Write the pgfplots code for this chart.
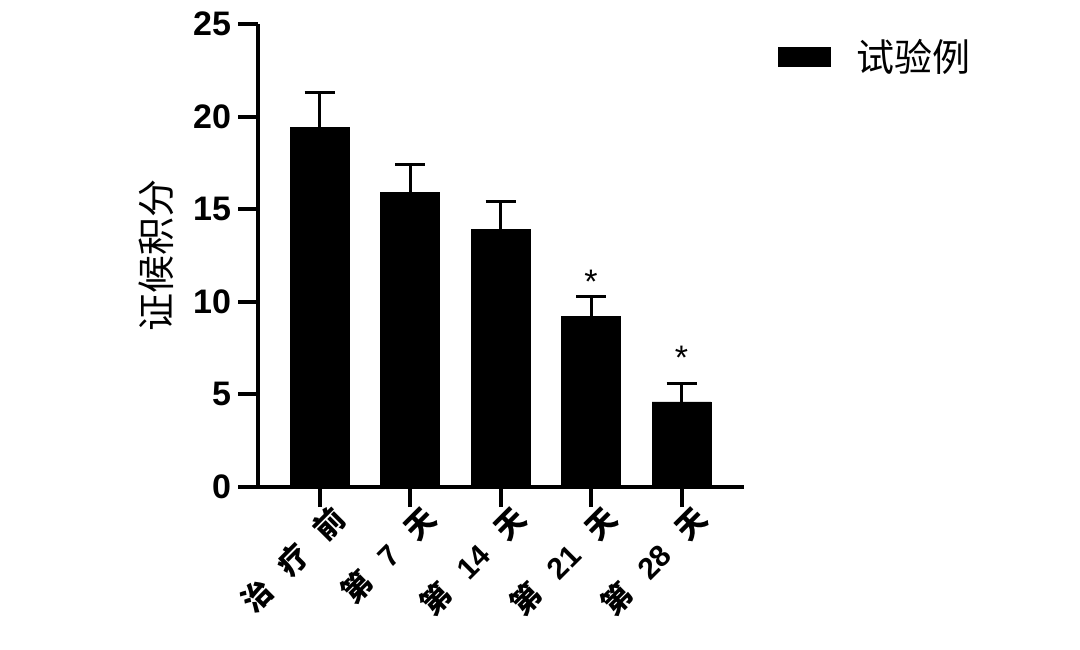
\documentclass[border=0pt]{standalone}
\usepackage{pgfplots}
\usepackage{pgfplotstable}
\pgfplotsset{compat=1.18}
\usepackage{fontspec}
\setmainfont{Liberation Sans}
\newfontfamily\cjk{Noto Sans CJK SC}
\newcommand\gap{\hspace{0.7em}}

% mean score and upper SD per visit
\pgfplotstableread{
x y err
0 19.43 1.87
1 15.90 1.50
2 13.90 1.50
3 9.23 1.08
4 4.59 1.02
}\scores

% significance marks
\pgfplotstableread{
x y lab
3 11.08 *
4 6.95 *
}\stars

\begin{document}
\begin{tikzpicture}
\useasboundingbox (0,0) rectangle (540pt,324.5pt);
\begin{axis}[
    at={(129pt,81pt)}, anchor=south west,
    scale only axis, width=243pt, height=231.5pt,
    xmin=-0.68, xmax=4.69, ymin=0, ymax=25,
    axis x line*=bottom, axis y line*=left,
    axis line style={line width=2pt, -},
    every outer x axis line/.append style={-},
    every outer y axis line/.append style={-},
    tick align=outside, major tick length=10pt,
    tick style={line width=2pt, black},
    xtick={0,...,4},
    xticklabels={
        {\cjk 治\gap 疗\gap 前},
        {\cjk 第}\gap 7\gap{\cjk 天},
        {\cjk 第}\gap 14\gap{\cjk 天},
        {\cjk 第}\gap 21\gap{\cjk 天},
        {\cjk 第}\gap 28\gap{\cjk 天}},
    xticklabel style={rotate=45, anchor=north east, inner sep=0pt,
        font=\bfseries\fontsize{15}{15}\selectfont, xshift=5pt, yshift=-2pt},
    ytick={0,5,10,15,20,25},
    yticklabel style={font=\bfseries\fontsize{17}{17}\selectfont},
    /pgf/number format/assume math mode=true,
    ylabel={证候积分},
    every axis y label/.style={at={(axis description cs:-0.21,0.5)},
        rotate=90, anchor=center, font=\cjk\fontsize{19}{19}\selectfont},
    legend style={at={(1.056,0.929)}, anchor=west, draw=none, fill=none,
        font=\cjk\fontsize{19}{19}\selectfont,
        nodes={inner sep=0pt},
        /tikz/every odd column/.append style={column sep=13pt}},
    legend image code/.code={\fill[black] (0pt,-4.75pt) rectangle (26pt,4.75pt);},
]
\addplot[ybar, bar width=29.5pt, fill=black, draw=black,
    error bars/.cd, y dir=plus, y explicit,
    error bar style={line width=1.5pt, black},
    error mark options={rotate=90, mark size=7.5pt, line width=1.5pt, black}]
    table[x=x, y=y, y error=err] {\scores};
\addlegendentry{试验例}
\addplot[draw=none, mark=none, forget plot, nodes near coords,
    point meta=explicit symbolic,
    nodes near coords style={anchor=center, font=\fontsize{17}{17}\selectfont}]
    table[x=x, y=y, meta=lab] {\stars};
\end{axis}
\end{tikzpicture}
\end{document}
